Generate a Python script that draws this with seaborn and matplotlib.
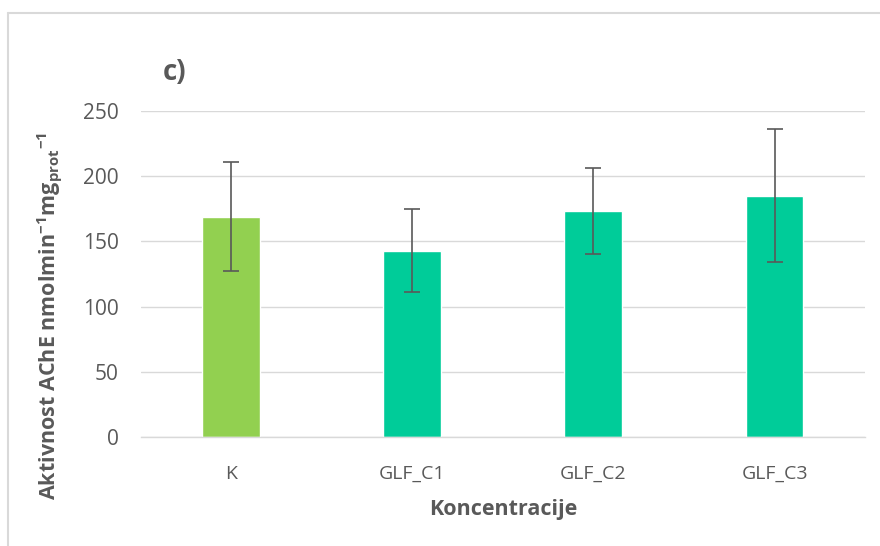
import matplotlib.pyplot as plt
import seaborn as sns
import pandas as pd
from matplotlib.lines import Line2D

categories = ["K", "GLF_C1", "GLF_C2", "GLF_C3"]
means = [169, 143, 173, 185]
errors = [42, 32, 33, 51]
bar_colors = ["#92D050", "#00CC99", "#00CC99", "#00CC99"]
y_ticks = [0, 50, 100, 150, 200, 250]

sns.set_theme(style="white")
plt.rcParams["font.family"] = ["Open Sans", "DejaVu Sans"]
plt.rcParams["mathtext.default"] = "regular"

text_color = "#595959"

df = pd.DataFrame({"konc": categories, "akt": means})

fig = plt.figure(figsize=(8.8, 5.46), dpi=100)
ax = fig.add_axes([0.160, 0.1996, 0.823, 0.597])

sns.barplot(data=df, x="konc", y="akt", hue="konc", palette=bar_colors,
            width=0.32, legend=False, ax=ax, errorbar=None, saturation=1)
ax.errorbar(range(len(categories)), means, yerr=errors, fmt="none",
            ecolor=text_color, elinewidth=1.2, capsize=6, capthick=1.2)

ax.set_xlim(-0.5, len(categories) - 0.5)
ax.set_ylim(0, 250)
ax.set_yticks(y_ticks)
ax.grid(axis="y", color="#d9d9d9", linewidth=1)
ax.set_axisbelow(True)
for side in ["top", "right", "left"]:
    ax.spines[side].set_visible(False)
ax.spines["bottom"].set_color("#d9d9d9")
ax.spines["bottom"].set_linewidth(1)
ax.tick_params(axis="y", length=0, labelsize=15, colors=text_color, pad=16)
ax.tick_params(axis="x", length=0, labelsize=14, colors=text_color, pad=20)

ax.set_xlabel("Koncentracije", fontsize=15.5, fontweight="bold",
              color=text_color, labelpad=12)
ax.set_ylabel("Aktivnost AChE nmolmin$^{-1}$mg$_{prot}$$^{-1}$",
              fontsize=15.5, fontweight="bold", color=text_color)
ax.yaxis.set_label_coords(-0.106, 0.37)

fig.text(0.185, 0.868, "c)", fontsize=20, fontweight="bold",
         color=text_color, ha="left", va="center")

# chart frame (left and top edge only visible)
fig.add_artist(Line2D([0.009, 0.009], [0, 0.976], color="#d9d9d9",
                      linewidth=1.5, transform=fig.transFigure))
fig.add_artist(Line2D([0.009, 1.0], [0.976, 0.976], color="#d9d9d9",
                      linewidth=1.5, transform=fig.transFigure))

fig.savefig("out.png", dpi=100)
